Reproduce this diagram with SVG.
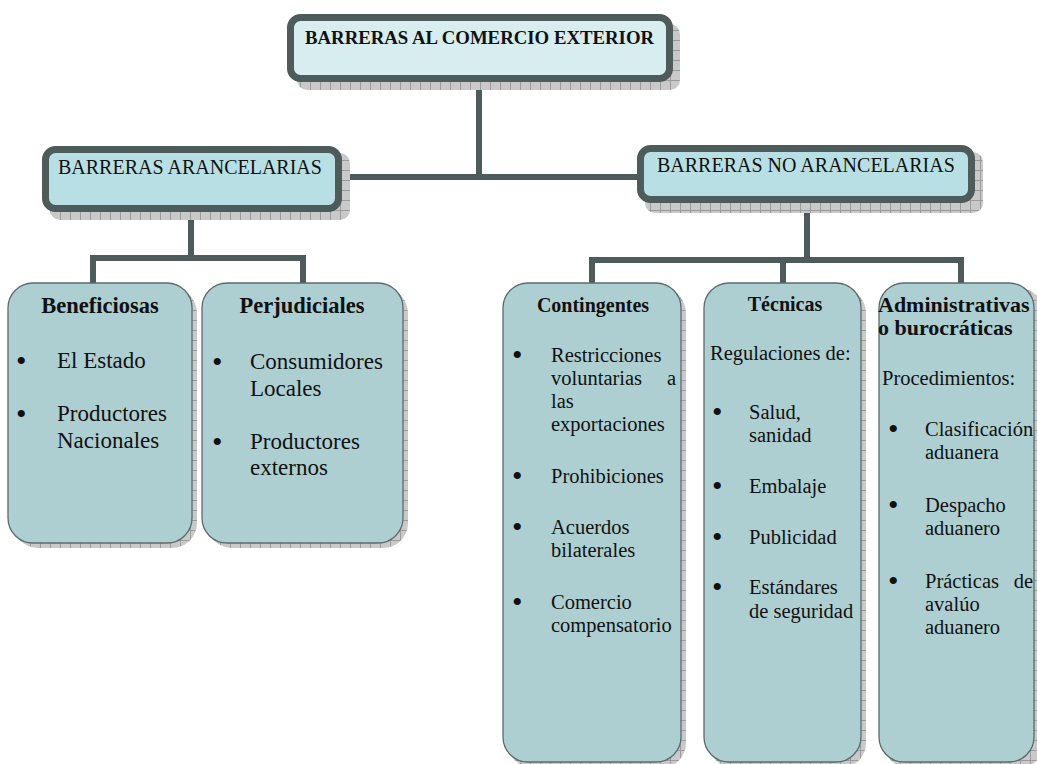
<svg xmlns="http://www.w3.org/2000/svg" width="1037" height="764" viewBox="0 0 1037 764">
<style>
text{font-family:"Liberation Serif","Times New Roman",serif;fill:#111}
.t1{font-size:18.8px;font-weight:bold}
.t2{font-size:20px}
.hb{font-size:22.5px;font-weight:bold}
.bl{font-size:23px}
.hr{font-size:20px;font-weight:bold}
.ha{font-size:22px;font-weight:bold}
.br{font-size:20.5px}
.bu{font-size:30px}
.bx1{fill:#d8edf0;stroke:#4d5b5b;stroke-width:7}
.bx2{fill:#b8e0e4;stroke:#4d5b5b;stroke-width:7}
.bx3{fill:#adcfd1;stroke:#5c6b6b;stroke-width:1.3}
.sh{fill:url(#grid)}
.con{fill:none;stroke:#4d5b5b;stroke-width:6;stroke-linejoin:miter}
</style>
<defs>
<pattern id="grid" width="10" height="10" patternUnits="userSpaceOnUse">
<rect width="10" height="10" fill="#c9c9c9"/>
<path d="M0 0.5H10M0.5 0V10" stroke="#9c9c9c" stroke-width="1"/>
</pattern>
</defs>

<g id="connectors">
<path class="con" d="M479 82V177M342 177H637"/>
<path class="con" d="M191 212V258M93 283V258H303V283"/>
<path class="con" d="M807 203V260M592 283V260H961V283M783 260V283"/>
</g>

<g id="n-top">
<rect class="sh" x="297" y="24" width="383" height="66" rx="10"/>
<rect class="bx1" x="290.5" y="17.5" width="379" height="61" rx="10"/>
<text class="t1" x="305" y="44">BARRERAS AL COMERCIO EXTERIOR</text>
</g>

<g id="n-arancelarias">
<rect class="sh" x="50" y="153" width="300" height="67" rx="10"/>
<rect class="bx2" x="45.5" y="149.5" width="293" height="59" rx="10"/>
<text class="t2" x="58" y="174">BARRERAS ARANCELARIAS</text>
</g>

<g id="n-noarancelarias">
<rect class="sh" x="645" y="152" width="338" height="61" rx="10"/>
<rect class="bx2" x="640.5" y="148.5" width="331" height="51" rx="10"/>
<text class="t2" x="657" y="172">BARRERAS NO ARANCELARIAS</text>
</g>

<g id="n-beneficiosas">
<rect class="sh" x="13" y="288" width="184" height="260" rx="25"/>
<rect class="bx3" x="8" y="283" width="184" height="260" rx="25"/>
<text class="hb" x="100" y="313" text-anchor="middle">Beneficiosas</text>
<text class="bu" x="16" y="371">•</text>
<text class="bl" x="57" y="368">El Estado</text>
<text class="bu" x="16" y="424">•</text>
<text class="bl" x="57" y="421">Productores</text>
<text class="bl" x="57" y="448">Nacionales</text>
</g>

<g id="n-perjudiciales">
<rect class="sh" x="207" y="288" width="201" height="260" rx="25"/>
<rect class="bx3" x="202" y="283" width="201" height="260" rx="25"/>
<text class="hb" x="302" y="313" text-anchor="middle">Perjudiciales</text>
<text class="bu" x="212" y="372">•</text>
<text class="bl" x="250" y="369">Consumidores</text>
<text class="bl" x="250" y="396">Locales</text>
<text class="bu" x="212" y="452">•</text>
<text class="bl" x="250" y="449">Productores</text>
<text class="bl" x="250" y="475">externos</text>
</g>

<g id="n-contingentes">
<rect class="sh" x="508" y="288" width="178" height="480" rx="25"/>
<rect class="bx3" x="503" y="283" width="178" height="479" rx="25"/>
<text class="hr" x="593" y="312" text-anchor="middle">Contingentes</text>
<text class="bu" x="512" y="365">•</text>
<text class="br" x="551" y="362">Restricciones</text>
<text class="br" x="551" y="385">voluntarias</text>
<text class="br" x="676" y="385" text-anchor="end">a</text>
<text class="br" x="551" y="408">las</text>
<text class="br" x="551" y="431">exportaciones</text>
<text class="bu" x="512" y="486">•</text>
<text class="br" x="551" y="483">Prohibiciones</text>
<text class="bu" x="512" y="537">•</text>
<text class="br" x="551" y="534">Acuerdos</text>
<text class="br" x="551" y="557">bilaterales</text>
<text class="bu" x="512" y="612">•</text>
<text class="br" x="551" y="609">Comercio</text>
<text class="br" x="551" y="632">compensatorio</text>
</g>

<g id="n-tecnicas">
<rect class="sh" x="709" y="288" width="157" height="480" rx="25"/>
<rect class="bx3" x="704" y="283" width="157" height="479" rx="25"/>
<text class="hr" x="785" y="311" text-anchor="middle">Técnicas</text>
<text class="br" x="710" y="360">Regulaciones de:</text>
<text class="bu" x="712" y="422">•</text>
<text class="br" x="749" y="419">Salud,</text>
<text class="br" x="749" y="442">sanidad</text>
<text class="bu" x="712" y="496">•</text>
<text class="br" x="749" y="493">Embalaje</text>
<text class="bu" x="712" y="547">•</text>
<text class="br" x="749" y="544">Publicidad</text>
<text class="bu" x="712" y="597">•</text>
<text class="br" x="749" y="594">Estándares</text>
<text class="br" x="749" y="618">de seguridad</text>
</g>

<g id="n-administrativas">
<rect class="sh" x="884" y="288" width="160" height="480" rx="25"/>
<rect class="bx3" x="879" y="283" width="155" height="479" rx="25"/>
<text class="ha" x="878" y="312">Administrativas</text>
<text class="ha" x="878" y="335">o burocráticas</text>
<text class="br" x="882" y="385">Procedimientos:</text>
<text class="bu" x="888" y="439">•</text>
<text class="br" x="925" y="436">Clasificación</text>
<text class="br" x="925" y="459">aduanera</text>
<text class="bu" x="888" y="515">•</text>
<text class="br" x="925" y="512">Despacho</text>
<text class="br" x="925" y="535">aduanero</text>
<text class="bu" x="888" y="591">•</text>
<text class="br" x="925" y="588">Prácticas</text>
<text class="br" x="1033" y="588" text-anchor="end">de</text>
<text class="br" x="925" y="611">avalúo</text>
<text class="br" x="925" y="634">aduanero</text>
</g>
</svg>
